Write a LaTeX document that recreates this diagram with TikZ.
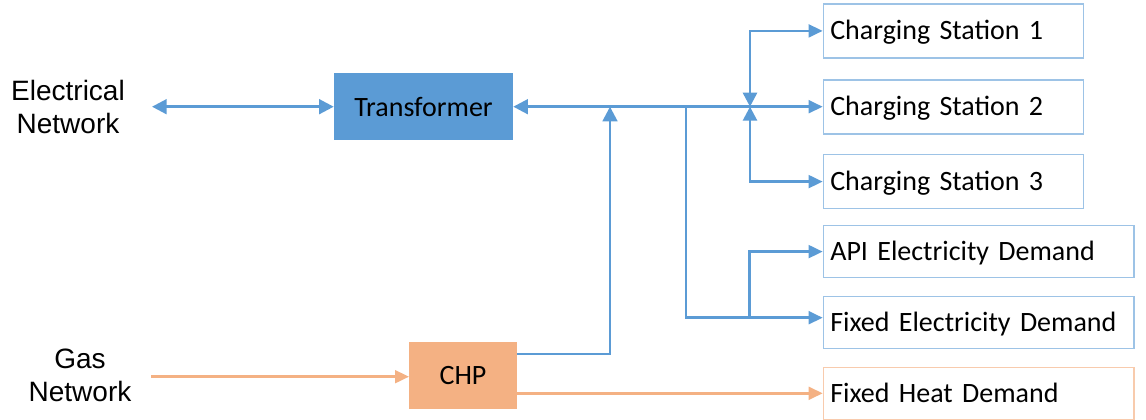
\documentclass[tikz,border=0pt]{standalone}
\usepackage{fontspec}
\setmainfont{Carlito}
\newfontfamily\arialfont{Liberation Sans}
\usetikzlibrary{arrows.meta}
\definecolor{elec}{HTML}{5B9BD5}
\definecolor{elecedge}{HTML}{9DC3E6}
\definecolor{heat}{HTML}{F4B183}
\definecolor{heatedge}{HTML}{F8CBAD}
\tikzset{
  every node/.style={font=\fontsize{21pt}{25pt}\selectfont},
  netlabel/.style={align=center, font=\arialfont\fontsize{21pt}{24.75pt}\selectfont},
  sinkbox/.style={draw=elecedge, line width=0.9pt, anchor=north west, inner xsep=5.25pt,
    inner ysep=0pt, align=left},
  shortsink/.style={sinkbox, text width=184.5pt, text height=27pt, text depth=13.5pt},
  longsink/.style={sinkbox, text width=222.5pt, text height=26.5pt, text depth=12.5pt},
  heatsink/.style={longsink, draw=heatedge},
  tip/.style={Triangle[length=10.5pt,width=9.5pt]},
  bigtip/.style={Triangle[length=11pt,width=11pt]},
  eflow/.style={draw=elec, line width=2pt, -{Triangle[length=10.5pt,width=9.5pt]}},
  hflow/.style={draw=heat, line width=2pt, -{Triangle[length=10.5pt,width=9.5pt]}},
  both/.style={eflow, {Triangle[length=10.5pt,width=10.5pt]}-{Triangle[length=10.5pt,width=9.5pt]}},
}
\begin{document}
\begin{tikzpicture}[x=0.75pt, y=-0.75pt]
\useasboundingbox (0,0) rectangle (1146,419);

% sources
\node[netlabel] (en) at (68,107) {Electrical\\Network};
\node[netlabel] (gn) at (80,375) {Gas\\Network};

% conversion units
\node[fill=elec, minimum width=134.25pt, minimum height=50.5pt] (tr) at (423.5,106.7) {Transformer};
\node[fill=heat, minimum width=80.5pt, minimum height=50.5pt] (chp) at (463,375.5) {CHP};

% demands
\node[shortsink] (cs1) at (822.7,3.3) {Charging Station 1};
\node[shortsink] (cs2) at (822.7,79.3) {Charging Station 2};
\node[shortsink] (cs3) at (822.7,154) {Charging Station 3};
\node[longsink] (api) at (822.7,225) {API Electricity Demand};
\node[longsink] (fed) at (822.7,296) {Fixed Electricity Demand};
\node[heatsink] (fhd) at (822.7,366.7) {Fixed Heat Demand};

% junctions on the electricity bus
\coordinate (gs) at (151,376.7);
\coordinate (es) at (152,106.7);
\coordinate (j1) at (610,106.7);
\coordinate (j2) at (686,106.7);
\coordinate (j3) at (750,106.7);
\coordinate (j4) at (749.3,317.7);
\coordinate (chpout) at (516.7,354);

% electricity network link
\draw[eflow, {Triangle[length=11pt,width=11pt]}-{Triangle[length=11pt,width=11pt]}] (es) -- (tr.west);

% bus: transformer <-> charging station 2
\draw[eflow, {Triangle[length=11pt,width=11pt]}-{Triangle[length=10.5pt,width=9.5pt]}] (tr.east) -- (cs2.west |- tr.east);

% CHP electricity feed into the bus
\draw[eflow, {Triangle[length=11pt,width=11pt]}-] (j1) |- (chpout);

% charging stations 1 and 3
\draw[both] (j3) |- (cs1.west);
\draw[both] (j3) |- (cs3.west);

% electricity demands
\draw[eflow] (j2) |- (j4) -- (fed.west |- j4);
\draw[eflow] (j4) |- (api.west);

% gas and heat
\draw[hflow] (gs) -- (chp.west |- gs);
\draw[hflow] (chp.east |- fhd.west) -- (fhd.west);
\end{tikzpicture}
\end{document}
